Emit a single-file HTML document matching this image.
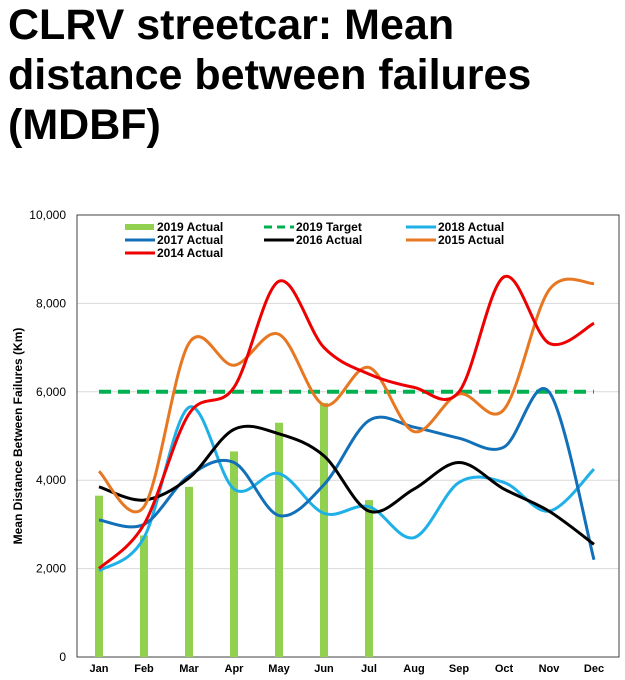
<!DOCTYPE html>
<html><head><meta charset="utf-8"><style>
body{margin:0;background:#fff;width:625px;height:680px;overflow:hidden;font-family:"Liberation Sans",Arial,sans-serif}
h1{position:absolute;left:8px;top:0px;margin:0;font-size:43px;line-height:50px;font-weight:bold;color:#000;width:620px;white-space:nowrap}
svg{position:absolute;left:0;top:0}
</style></head><body>
<h1>CLRV streetcar: Mean<br>distance between failures<br>(MDBF)</h1>
<svg id="chart" width="625" height="680"></svg>
<script>
const months=["Jan","Feb","Mar","Apr","May","Jun","Jul","Aug","Sep","Oct","Nov","Dec"];
const yTicks=[0,2000,4000,6000,8000,10000];
const tickLabels=["0","2,000","4,000","6,000","8,000","10,000"];
const actual2019=[3650,2750,3850,4650,5300,5750,3550];
const target2019=6000;
const s2018=[1950,2700,5650,3800,4150,3250,3400,2700,3950,3950,3300,4250];
const s2017=[3100,3000,4100,4400,3200,3900,5350,5200,4950,4750,6000,2200];
const s2016=[3850,3550,4050,5150,5050,4550,3300,3800,4400,3800,3300,2550];
const s2015=[4200,3400,7100,6600,7300,5700,6550,5100,5950,5600,8300,8450];
const s2014=[2000,3000,5500,6100,8500,7000,6400,6100,6000,8600,7100,7550];

const svg=document.getElementById('chart');const NS="http://www.w3.org/2000/svg";
const L=77,R=619,T=215,B=657;
const x=i=>99+i*45;
const y=v=>B-(v/10000)*(B-T);
function mk(t,a,p){const e=document.createElementNS(NS,t);for(const k in a)e.setAttribute(k,a[k]);(p||svg).appendChild(e);return e;}
yTicks.forEach((v,i)=>{
 if(v>0&&v<10000){const g=mk('line',{x1:L,x2:R,y1:y(v),y2:y(v),stroke:'#d9d9d9','stroke-width':1});
 }
 const t=mk('text',{x:66,y:y(v)+4,'text-anchor':'end','font-size':12,fill:'#000'});t.textContent=tickLabels[i];
 
});
const frame=mk('rect',{x:L,y:T,width:R-L,height:B-T,fill:'none',stroke:'#404040','stroke-width':1});

months.forEach((m,i)=>{const t=mk('text',{x:x(i),y:672,'text-anchor':'middle','font-size':11,'font-weight':'bold'});t.textContent=m;
 });
const yt=mk('text',{transform:'translate(22,436) rotate(-90)','text-anchor':'middle','font-size':12,'font-weight':'bold'});yt.textContent='Mean Distance Between Failures (Km)';

actual2019.forEach((v,i)=>{const b=mk('rect',{x:x(i)-4,y:y(v),width:8,height:B-y(v),fill:'#92d050'});
 });
const tg=mk('line',{x1:x(0),x2:x(11),y1:y(target2019),y2:y(target2019),stroke:'#00b050','stroke-width':4,'stroke-dasharray':'12,7'});

function smooth(d){const p=d.map((v,i)=>[x(i),y(v)]);let s=`M${p[0][0]},${p[0][1]}`;
 for(let i=0;i<p.length-1;i++){const p0=p[Math.max(0,i-1)],p1=p[i],p2=p[i+1],p3=p[Math.min(p.length-1,i+2)];
 const c1=[p1[0]+(p2[0]-p0[0])/6,p1[1]+(p2[1]-p0[1])/6],c2=[p2[0]-(p3[0]-p1[0])/6,p2[1]-(p3[1]-p1[1])/6];
 s+=` C${c1[0]},${c1[1]} ${c2[0]},${c2[1]} ${p2[0]},${p2[1]}`;}return s;}
[[s2018,'#1fb0e8','series-2018'],[s2017,'#1270b8','series-2017'],[s2016,'#000','series-2016'],[s2015,'#e87722','series-2015'],[s2014,'#ee0000','series-2014']].forEach(([d,c,n])=>{
 const p=mk('path',{d:smooth(d),fill:'none',stroke:c,'stroke-width':3});
 });
const leg=[['2019 Actual','bar','#92d050',125,227],['2019 Target','dash','#00b050',264,227],['2018 Actual','line','#1fb0e8',406,227],
['2017 Actual','line','#1270b8',125,240],['2016 Actual','line','#000',264,240],['2015 Actual','line','#e87722',406,240],['2014 Actual','line','#ee0000',125,253]];
leg.forEach(([t,k,c,lx,ly])=>{
 let s;
 if(k==='bar')s=mk('rect',{x:lx,y:ly-3,width:29,height:6,fill:c});
 else s=mk('line',{x1:lx,x2:lx+30,y1:ly,y2:ly,stroke:c,'stroke-width':3,'stroke-dasharray':k==='dash'?'8,5':'none'});
 
 const tx=mk('text',{x:lx+32,y:ly+4,'font-size':12,'font-weight':'bold'});tx.textContent=t;
 
});
</script>
</body></html>
